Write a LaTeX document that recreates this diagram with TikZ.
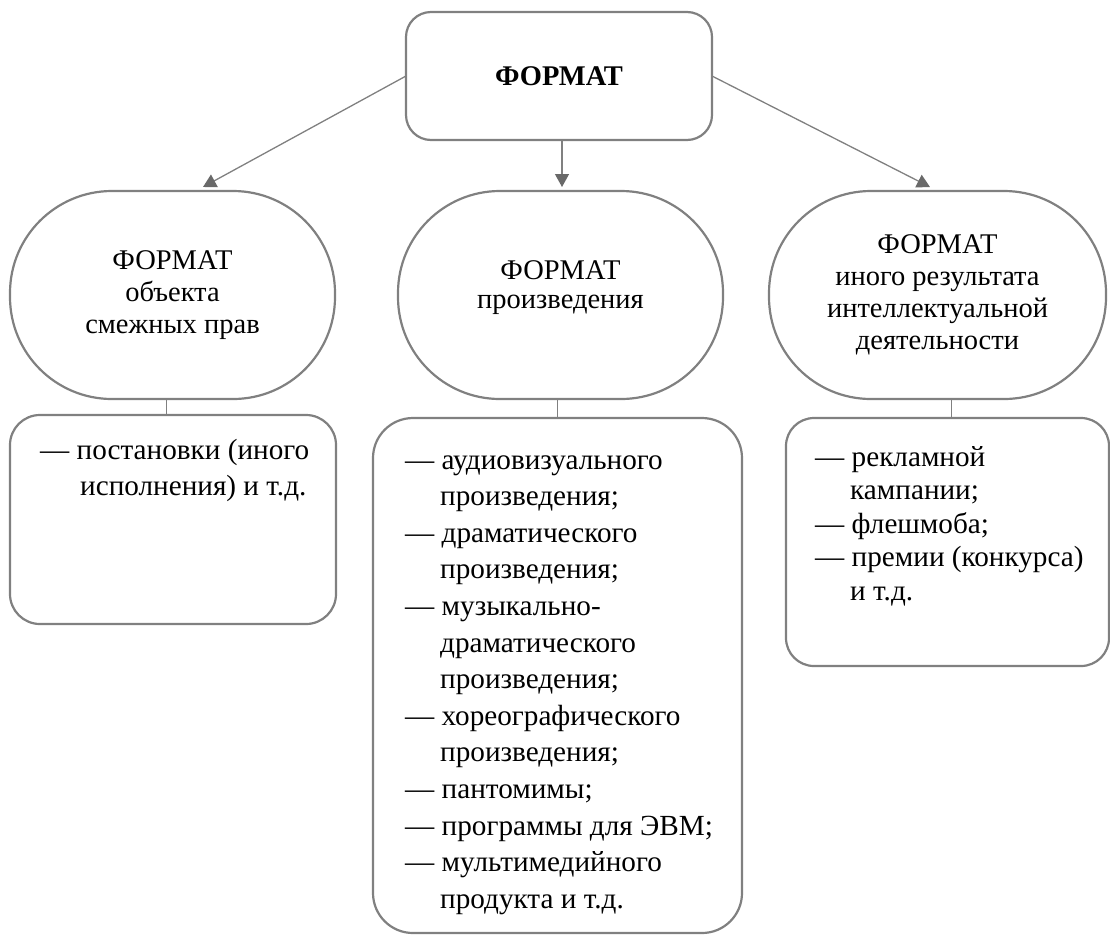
\documentclass[tikz,border=0pt]{standalone}
\usepackage{fontspec}
\setmainfont{Liberation Serif}
\usetikzlibrary{arrows.meta,calc}
\definecolor{lg}{RGB}{128,128,128}
\definecolor{ag}{RGB}{105,105,105}
\newlength{\hind}
\newcommand{\hitem}[1]{\par\noindent\hangindent=\hind\hangafter=1 #1}
\begin{document}
\begin{tikzpicture}[x=1pt,y=1pt,
  shp/.style={draw=lg,line width=2.2pt,inner sep=0pt,outer sep=0pt},
  conn/.style={draw=lg,line width=1.3pt},
  arr/.style={conn,-{Triangle[length=13pt,width=14pt,color=ag]}},
  hd/.style={font=\fontsize{28.5}{32}\selectfont,align=center,text=black},
  lst/.style={anchor=base west,inner sep=0pt}]
\useasboundingbox (0,0) rectangle (1110,-935);
% top box
\node[shp,rounded corners=25pt,minimum width=306pt,minimum height=128pt,
      font=\bfseries\fontsize{28.5}{32}\selectfont] (top) at (559,-76) {ФОРМАТ};
% rounded heads
\node[shp,hd,rounded corners=102pt,minimum width=325pt,minimum height=208pt] (e1) at (172.5,-295)
  {ФОРМАТ\\объекта\\смежных прав};
\node[shp,hd,rounded corners=102pt,minimum width=325pt,minimum height=208pt,text depth=20pt] (e2) at (560.5,-295)
  {ФОРМАТ\\[-3pt]произведения};
\node[shp,hd,rounded corners=102pt,minimum width=337pt,minimum height=208pt] (e3) at (937.5,-295)
  {ФОРМАТ\\иного результата\\интеллектуальной\\деятельности};
% list boxes
\node[shp,rounded corners=30pt,minimum width=326pt,minimum height=209pt] (b1) at (173,-519.5) {};
\node[shp,rounded corners=40pt,minimum width=369pt,minimum height=515pt] (b2) at (557.5,-675.5) {};
\node[shp,rounded corners=28pt,minimum width=323pt,minimum height=248pt] (b3) at (947.5,-542) {};
% list texts
\node[lst,font=\fontsize{29.2}{36}\selectfont] (l1) at (40,-459) {\begin{minipage}[t]{400pt}\setlength{\hind}{40pt}%
  \hitem{— постановки (иного\\исполнения) и т.д.}\end{minipage}};
\node[lst,font=\fontsize{29.2}{36.6}\selectfont] (l2) at (405,-469) {\begin{minipage}[t]{400pt}\setlength{\hind}{35pt}%
  \hitem{— аудиовизуального\\произведения;}
  \hitem{— драматического\\произведения;}
  \hitem{— музыкально-\\драматического\\произведения;}
  \hitem{— хореографического\\произведения;}
  \hitem{— пантомимы;}
  \hitem{— программы для ЭВМ;}
  \hitem{— мультимедийного\\продукта и т.д.}\end{minipage}};
\node[lst,font=\fontsize{29.2}{33.5}\selectfont] (l3) at (815,-466) {\begin{minipage}[t]{400pt}\setlength{\hind}{35pt}%
  \hitem{— рекламной\\кампании;}
  \hitem{— флешмоба;}
  \hitem{— премии (конкурса)\\и т.д.}\end{minipage}};
% connectors
\coordinate (a1) at (203,-187);
\coordinate (a2) at (562,-187);
\coordinate (a3) at (930,-187);
\draw[arr] (top.west) -- (a1);
\draw[arr] (top.south -| a2) -- (a2);
\draw[arr] (top.east) -- (a3);
\draw[conn] ([xshift=-6pt]e1.south) -- ([xshift=-6pt]e1.south |- b1.north);
\draw[conn] (b2.north |- e2.south) -- (b2.north);
\draw[conn] ([xshift=4pt]b3.north |- e3.south) -- ([xshift=4pt]b3.north);
\end{tikzpicture}
\end{document}
